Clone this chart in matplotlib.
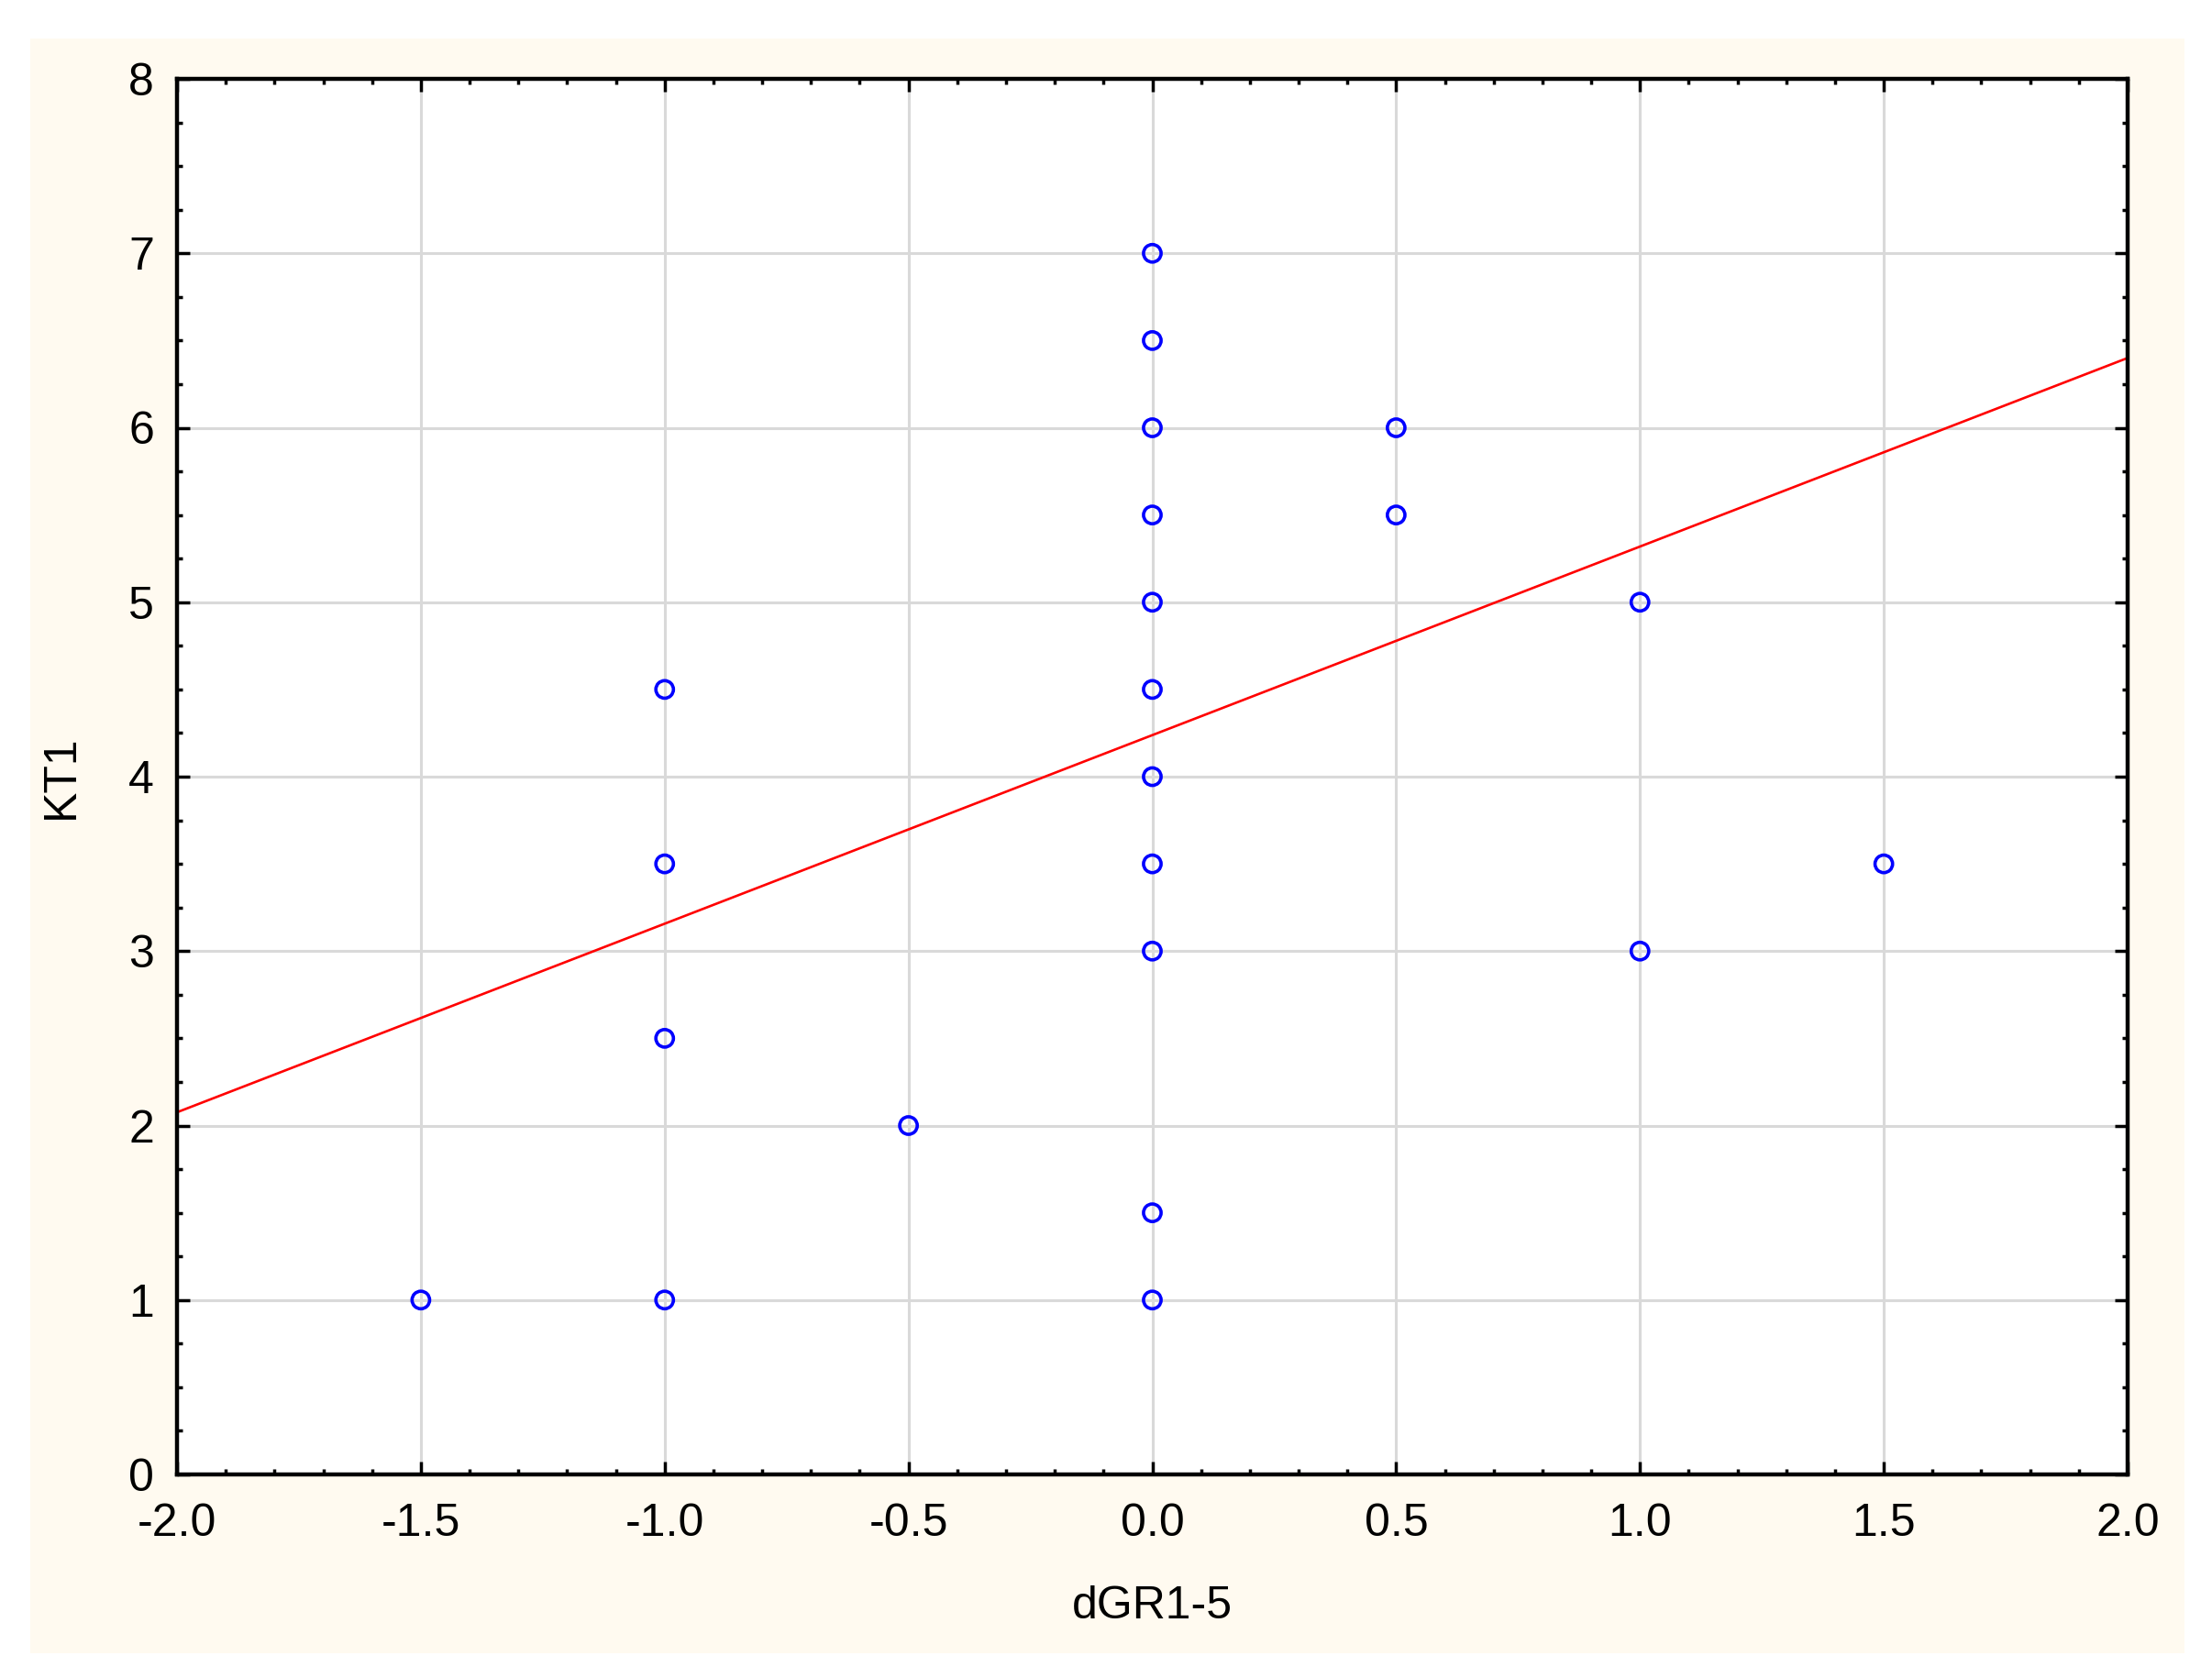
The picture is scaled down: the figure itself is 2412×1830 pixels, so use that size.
import numpy as np
import matplotlib.pyplot as plt
from matplotlib.patches import Rectangle
from matplotlib.ticker import MultipleLocator

# scatter data
dgr = [-1.5, -1.0, -1.0, -1.0, -1.0, -0.5,
       0.0, 0.0, 0.0, 0.0, 0.0, 0.0, 0.0, 0.0, 0.0, 0.0, 0.0,
       0.5, 0.5, 1.0, 1.0, 1.5]
kt1 = [1.0, 1.0, 2.5, 3.5, 4.5, 2.0,
       1.0, 1.5, 3.0, 3.5, 4.0, 4.5, 5.0, 5.5, 6.0, 6.5, 7.0,
       5.5, 6.0, 3.0, 5.0, 3.5]

# fitted line as shown (intercept, slope)
fit_intercept = 4.238
fit_slope = 1.081

x_ticks = [-2.0, -1.5, -1.0, -0.5, 0.0, 0.5, 1.0, 1.5, 2.0]
y_ticks = [0, 1, 2, 3, 4, 5, 6, 7, 8]

plt.rcParams["font.family"] = ["Liberation Sans", "DejaVu Sans"]

fig = plt.figure(figsize=(24.12, 18.3), dpi=100)
fig.patch.set_facecolor("white")
# cream panel behind the plot
fig.patches.append(Rectangle((33 / 2412, 1 - 1803 / 1830), (2382 - 33) / 2412, (1803 - 42) / 1830,
                             transform=fig.transFigure, facecolor="#fffaf0", edgecolor="none", zorder=-5))

ax = fig.add_axes([193 / 2412, 1 - 1608 / 1830, (2320 - 193) / 2412, (1608 - 86) / 1830])
ax.set_facecolor("white")

ax.set_xlim(-2.0, 2.0)
ax.set_ylim(0, 8)
ax.set_xticks(x_ticks)
ax.set_xticklabels([f"{v:.1f}" for v in x_ticks])
ax.set_yticks(y_ticks)
ax.set_yticklabels([str(v) for v in y_ticks])
ax.xaxis.set_minor_locator(MultipleLocator(0.1))
ax.yaxis.set_minor_locator(MultipleLocator(0.25))

ax.grid(True, which="major", color="#d9d9d9", linewidth=2.2, zorder=0)
ax.set_axisbelow(True)

ax.tick_params(which="both", direction="in", top=True, right=True, color="black")
ax.tick_params(which="major", length=10, width=2.5, labelsize=36)
ax.tick_params(axis="x", which="major", pad=22)
ax.tick_params(axis="y", which="major", pad=18)
ax.tick_params(which="minor", length=4, width=2.5)
for s in ax.spines.values():
    s.set_linewidth(3.2)

xs = np.array([-2.0, 2.0])
ax.plot(xs, fit_intercept + fit_slope * xs, color="red", linewidth=1.9, zorder=2, clip_on=False)

ax.scatter(dgr, kt1, s=190, facecolors="none", edgecolors="blue", linewidths=2.6, zorder=3)

ax.set_xlabel("dGR1-5", fontsize=36, labelpad=32)
ax.set_ylabel("KT1", fontsize=36, labelpad=36)

fig.savefig("out.png", dpi=100)
